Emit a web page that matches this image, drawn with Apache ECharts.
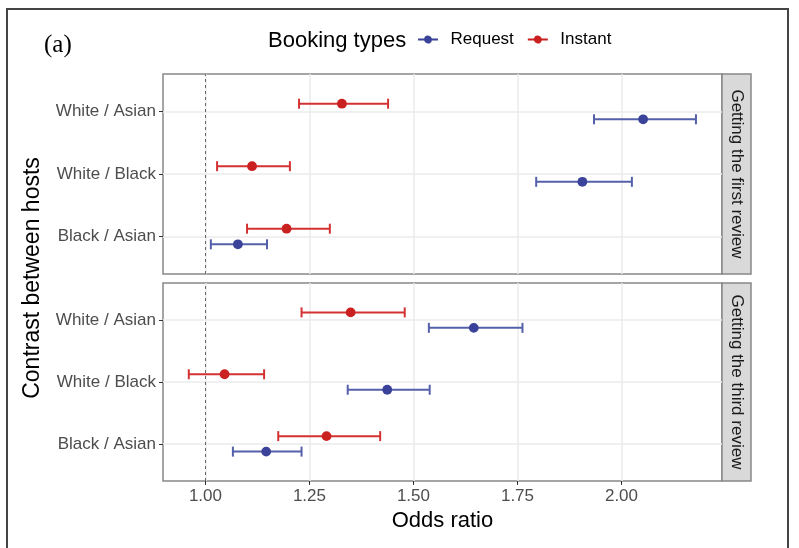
<!DOCTYPE html>
<html>
<head>
<meta charset="utf-8">
<script src="https://cdn.jsdelivr.net/npm/echarts@6/dist/echarts.min.js"></script>
<style>
html,body{margin:0;padding:0;background:#fff;}
#chart{width:799px;height:548px;}
</style>
</head>
<body>
<div id="chart"></div>
<script>
// Categories (bottom to top)
const categories = ['Black / Asian', 'White / Black', 'White / Asian'];
const xTicks = [1.00, 1.25, 1.50, 1.75, 2.00];
const panels = ['Getting the first review', 'Getting the third review'];
const seriesNames = ['Request', 'Instant'];

// Getting the first review
const firstInstantEst = [1.195, 1.112, 1.328];
const firstInstantLo  = [1.100, 1.028, 1.225];
const firstInstantHi  = [1.299, 1.203, 1.439];
const firstRequestEst = [1.078, 1.906, 2.052];
const firstRequestLo  = [1.013, 1.795, 1.934];
const firstRequestHi  = [1.148, 2.025, 2.179];

// Getting the third review
const thirdInstantEst = [1.291, 1.046, 1.349];
const thirdInstantLo  = [1.175, 0.960, 1.231];
const thirdInstantHi  = [1.420, 1.141, 1.479];
const thirdRequestEst = [1.146, 1.437, 1.645];
const thirdRequestLo  = [1.066, 1.342, 1.537];
const thirdRequestHi  = [1.231, 1.539, 1.762];

const FONT = 'Liberation Sans, Arial, sans-serif';
const colors = {
  Request: { point: '#3A4399', line: '#5560AA' },
  Instant: { point: '#CA2020', line: '#D43232' }
};
const dodge = { Request: -0.125, Instant: 0.125 };

function buildData(est, lo, hi) {
  return categories.map((c, i) => [est[i], lo[i], hi[i], i + 1]);
}

function makeSeries(name, gridIdx, est, lo, hi) {
  const col = colors[name];
  const dd = dodge[name];
  return {
    type: 'custom',
    name: name,
    xAxisIndex: gridIdx,
    yAxisIndex: gridIdx,
    itemStyle: { color: col.point },
    data: buildData(est, lo, hi),
    z: 5,
    renderItem: function (params, api) {
      const y = api.value(3) + dd;
      const pLo = api.coord([api.value(1), y]);
      const pHi = api.coord([api.value(2), y]);
      const pE = api.coord([api.value(0), y]);
      const ls = { stroke: col.line, lineWidth: 2 };
      return {
        type: 'group',
        children: [
          { type: 'line', shape: { x1: pLo[0], y1: pLo[1], x2: pHi[0], y2: pHi[1] }, style: ls },
          { type: 'line', shape: { x1: pLo[0], y1: pLo[1] - 5, x2: pLo[0], y2: pLo[1] + 5 }, style: ls },
          { type: 'line', shape: { x1: pHi[0], y1: pHi[1] - 5, x2: pHi[0], y2: pHi[1] + 5 }, style: ls },
          { type: 'circle', shape: { cx: pE[0], cy: pE[1], r: 4.9 }, style: { fill: col.point } }
        ]
      };
    }
  };
}

function refLine(gridIdx) {
  return {
    type: 'line', xAxisIndex: gridIdx, yAxisIndex: gridIdx, data: [], silent: true,
    markLine: {
      symbol: 'none', silent: true, label: { show: false },
      lineStyle: { type: [3, 3], color: '#666', width: 1 },
      data: [{ xAxis: 1 }]
    }
  };
}

const legendIcon = 'path://M0,9L6.127,9A4,4 0 0 1 13.873,9L20,9L20,11L13.873,11A4,4 0 0 1 6.127,11L0,11Z';

function xAxisCfg(gridIdx, showLabels) {
  return {
    type: 'value', gridIndex: gridIdx, min: 0.898, max: 2.2416,
    axisLine: { show: false },
    axisTick: { show: showLabels, customValues: xTicks, length: 4, lineStyle: { color: '#333', width: 1 } },
    axisLabel: {
      show: showLabels, customValues: xTicks, color: '#4D4D4D', fontSize: 17, fontFamily: FONT, margin: 7,
      formatter: v => v.toFixed(2)
    },
    splitLine: { show: true, lineStyle: { color: '#EBEBEB', width: 1.5 } },
    name: showLabels ? 'Odds ratio' : '',
    nameLocation: 'middle', nameGap: 29,
    nameTextStyle: { color: '#000', fontSize: 22, fontFamily: FONT }
  };
}

function yAxisCfg(gridIdx) {
  return {
    type: 'value', gridIndex: gridIdx, min: 0.4, max: 3.6,
    axisLine: { show: false },
    axisTick: { show: true, customValues: [1, 2, 3], length: 4, lineStyle: { color: '#333', width: 1 } },
    axisLabel: {
      customValues: [1, 2, 3], color: '#4D4D4D', fontSize: 17, fontFamily: FONT, margin: 7,
      formatter: v => categories[Math.round(v) - 1]
    },
    splitLine: { show: true, lineStyle: { color: '#EBEBEB', width: 1.5 } }
  };
}

const chart = echarts.init(document.getElementById('chart'), null, { renderer: 'canvas' });
chart.setOption({
  animation: false,
  backgroundColor: '#fff',
  title: {
    text: 'Booking types', left: 263, top: 25,
    textStyle: { color: '#000', fontSize: 22, fontWeight: 'normal', fontFamily: FONT }
  },
  legend: {
    left: 418, top: 31, padding: 0, itemWidth: 21, itemHeight: 8, itemGap: 14,
    textStyle: { color: '#000', fontSize: 17, fontFamily: FONT, padding: [0, 0, 0, 7] },
    data: seriesNames.map(n => ({ name: n, icon: legendIcon }))
  },
  grid: [
    { left: 163, top: 74, width: 559, height: 200, show: true, borderColor: '#888', borderWidth: 1.5, backgroundColor: '#fff' },
    { left: 163, top: 283, width: 559, height: 198, show: true, borderColor: '#888', borderWidth: 1.5, backgroundColor: '#fff' }
  ],
  xAxis: [xAxisCfg(0, false), xAxisCfg(1, true)],
  yAxis: [yAxisCfg(0), yAxisCfg(1)],
  series: [
    refLine(0), refLine(1),
    makeSeries('Request', 0, firstRequestEst, firstRequestLo, firstRequestHi),
    makeSeries('Instant', 0, firstInstantEst, firstInstantLo, firstInstantHi),
    makeSeries('Request', 1, thirdRequestEst, thirdRequestLo, thirdRequestHi),
    makeSeries('Instant', 1, thirdInstantEst, thirdInstantLo, thirdInstantHi)
  ],
  graphic: [
    { type: 'polyline', shape: { points: [[7, 548], [7, 9], [788, 9], [788, 548]] }, style: { stroke: '#444', lineWidth: 2, fill: null } },
    { type: 'text', left: 44, top: 33, style: { text: '(a)', font: '25px "Liberation Serif", "Times New Roman", serif', fill: '#000' } },
    { type: 'text', x: 33, y: 278, rotation: Math.PI / 2, style: { text: 'Contrast between hosts', font: '23px ' + FONT, fill: '#000', align: 'center', verticalAlign: 'middle' } },
    { type: 'rect', shape: { x: 722, y: 74, width: 29, height: 200 }, style: { fill: '#D9D9D9', stroke: '#888', lineWidth: 1.5 } },
    { type: 'rect', shape: { x: 722, y: 283, width: 29, height: 198 }, style: { fill: '#D9D9D9', stroke: '#888', lineWidth: 1.5 } },
    { type: 'text', x: 736.5, y: 174, rotation: -Math.PI / 2, style: { text: panels[0], font: '17px ' + FONT, fill: '#1A1A1A', align: 'center', verticalAlign: 'middle' } },
    { type: 'text', x: 736.5, y: 382, rotation: -Math.PI / 2, style: { text: panels[1], font: '17px ' + FONT, fill: '#1A1A1A', align: 'center', verticalAlign: 'middle' } }
  ]
});
</script>
</body>
</html>
